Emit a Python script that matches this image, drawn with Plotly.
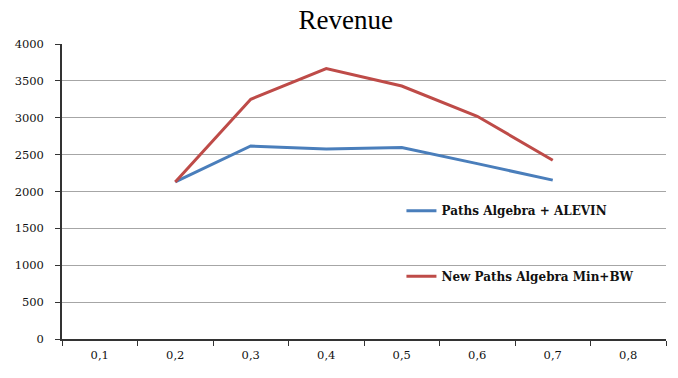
import plotly.graph_objects as go

# Category labels (decimal comma) and revenue per series
categories = ["0,1", "0,2", "0,3", "0,4", "0,5", "0,6", "0,7", "0,8"]
paths_alevin = [None, 2130, 2617, 2575, 2595, 2378, 2154, None]
new_paths_min_bw = [None, 2130, 3250, 3668, 3430, 3020, 2424, None]

SERIF = "DejaVu Serif, Liberation Serif, serif"
TITLE_FONT = "Liberation Serif, DejaVu Serif, serif"

fig = go.Figure()
fig.add_trace(go.Scatter(
    x=categories, y=paths_alevin, mode="lines",
    name="<b>Paths Algebra + ALEVIN</b>",
    line=dict(color="#4a7ebb", width=3),
    legend="legend", showlegend=True,
))
fig.add_trace(go.Scatter(
    x=categories, y=new_paths_min_bw, mode="lines",
    name="<b>New Paths Algebra Min+BW</b>",
    line=dict(color="#be4b48", width=3),
    legend="legend2", showlegend=True,
))

legend_style = dict(
    xanchor="left", yanchor="middle",
    bgcolor="rgba(0,0,0,0)",
    font=dict(family=SERIF, size=12, color="#111111"),
    itemwidth=30,
)

fig.update_layout(
    width=678, height=378,
    showlegend=True,
    margin=dict(l=62, r=12, t=44, b=39),
    paper_bgcolor="white", plot_bgcolor="white",
    title=dict(text="Revenue", x=0.51, xanchor="center", y=0.948, yanchor="middle",
               font=dict(family=TITLE_FONT, size=27, color="#000000")),
    font=dict(family=SERIF, size=11, color="#000000"),
    legend=dict(x=0.562, y=0.435, **legend_style),
    legend2=dict(x=0.562, y=0.213, **legend_style),
    xaxis=dict(
        type="category", categoryorder="array", categoryarray=categories,
        range=[-0.5, 7.5],
        tickson="boundaries", ticks="outside", ticklen=5, tickcolor="#333333",
        showline=True, linecolor="#333333", linewidth=1.5,
        showgrid=False, zeroline=False,
        ticklabelstandoff=4,
        tickfont=dict(family=SERIF, size=11.5, color="#111111"),
    ),
    yaxis=dict(
        range=[0, 4000], dtick=500,
        ticks="outside", ticklen=5, tickcolor="#333333",
        showline=True, linecolor="#333333", linewidth=1.5,
        showgrid=True, gridcolor="#a6a6a6", gridwidth=1.2,
        zeroline=False,
        ticklabelstandoff=9,
        tickfont=dict(family=SERIF, size=11.5, color="#111111"),
    ),
)

fig.write_html("out.html")
